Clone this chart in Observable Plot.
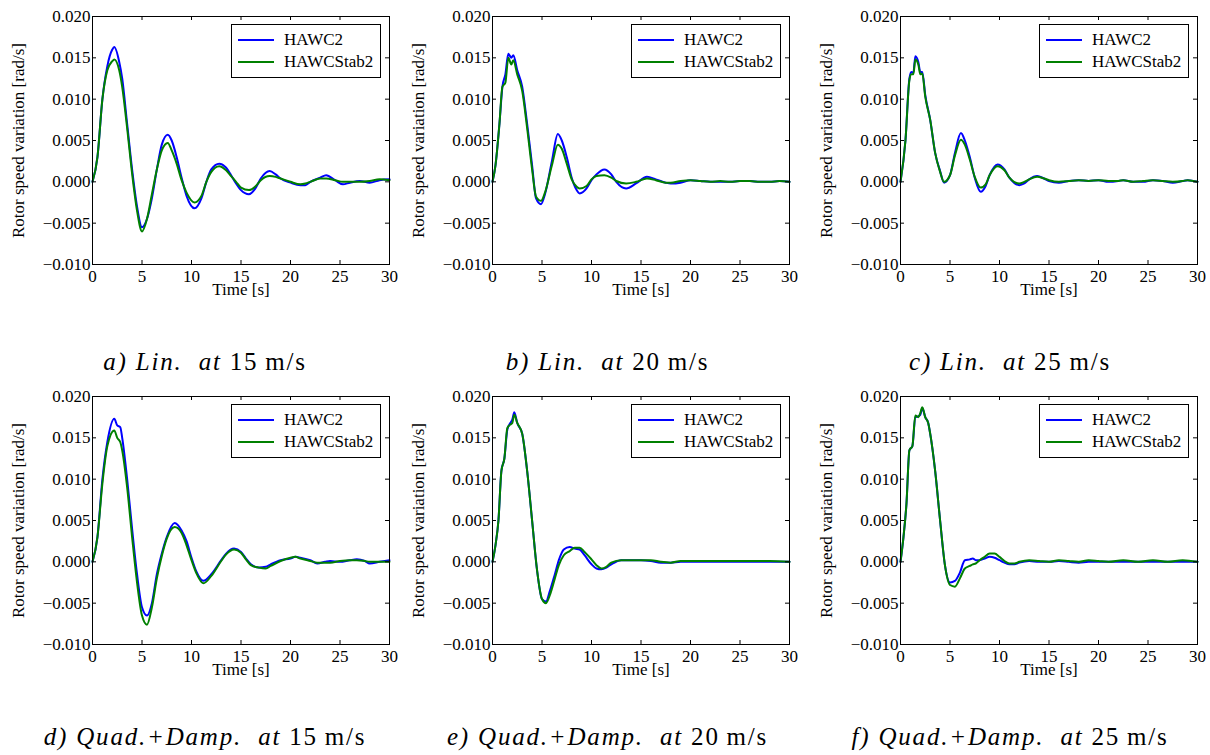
<!DOCTYPE html>
<html>
<head>
<meta charset="utf-8">
<script src="https://cdn.jsdelivr.net/npm/d3@7"></script>
<script src="https://cdn.jsdelivr.net/npm/@observablehq/plot@0.6"></script>
<style>
  body { margin: 0; background: #fff; }
  #fig { position: relative; width: 1210px; height: 755px; overflow: hidden; }
  .panel { position: absolute; }
  .legend {
    position: absolute; border: 1px solid #000; background: #fff;
    font-family: "Liberation Serif", serif; font-size: 17px; color: #000;
    box-sizing: border-box; width: 150px; height: 54px; padding: 4px 0 0 6px;
  }
  .legend .row { display: flex; align-items: center; height: 22px; }
  .legend .swatch { width: 36px; height: 2px; margin-right: 10px; }
  .caption {
    position: absolute; text-align: center; white-space: nowrap;
    font-family: "Liberation Serif", serif; font-size: 25px; line-height: 25px;
    letter-spacing: 1.8px; color: #000;
  }
</style>
</head>
<body>
<div id="fig"></div>
<script>
// Rotor speed response after a step, HAWC2 time simulation vs. HAWCStab2 model
const seriesNames = ["HAWC2", "HAWCStab2"];
const seriesColors = ["#0000ff", "#008000"];
const xTicks = [0, 5, 10, 15, 20, 25, 30];
const yTicks = [-0.010, -0.005, 0.000, 0.005, 0.010, 0.015, 0.020];
const xLabel = "Time [s]";
const yLabel = "Rotor speed variation [rad/s]";

// a) Lin. at 15 m/s
const tA = [0,0.5,1,1.5,2,2.2,2.7,3,3.5,4,4.5,5,5.5,6,6.5,7,7.6,8,8.5,9,9.5,10.3,11,11.5,12,12.8,13.5,14,14.5,15,15.8,16.5,17,17.9,18.5,19,20,21,21.5,22,23,23.6,24.5,25.3,26,27,28,29,30];
const hawc2A = [0,0.003,0.010,0.014,0.0160,0.0163,0.0145,0.0125,0.007,0.0015,-0.003,-0.0055,-0.0045,-0.002,0.0015,0.0045,0.0057,0.005,0.003,0.0005,-0.0017,-0.0032,-0.002,0,0.0015,0.0022,0.0017,0.0008,-0.0002,-0.001,-0.0015,-0.0007,0.0004,0.0013,0.0009,0.0004,-0.0001,-0.0004,-0.0004,0,0.0005,0.0008,0.0002,-0.0003,-0.0001,0.0001,-0.0001,0.0002,0.0003];
const stab2A = [0,0.003,0.010,0.0135,0.0146,0.0148,0.0135,0.0115,0.0065,0.001,-0.0035,-0.006,-0.0045,-0.0015,0.0015,0.0038,0.0047,0.0038,0.0022,0.0002,-0.0013,-0.0025,-0.0017,0,0.0012,0.0019,0.0014,0.0007,0,-0.0007,-0.001,-0.0005,0.0002,0.0007,0.0006,0.0004,0,-0.0003,-0.0002,0,0.0004,0.0004,0.0002,0,0,0,0.0001,0.0003,0.0002];

// b) Lin. at 20 m/s
const tB = [0,0.3,0.7,1,1.3,1.6,1.9,2.1,2.5,3,3.5,4,4.4,4.9,5.3,6,6.6,7,7.5,8,8.5,8.8,9.5,10,10.5,11.3,12,12.5,13.5,14.5,15.6,16.5,17.5,18,19,20,21,22,23,24,25,26,27,28,29,30];
const hawc2B = [0,0.002,0.007,0.0115,0.013,0.0155,0.015,0.0153,0.0135,0.0115,0.007,0.002,-0.002,-0.0027,-0.0015,0.0025,0.0058,0.005,0.003,0.0005,-0.001,-0.0014,-0.0008,0.0002,0.0009,0.0015,0.0009,0,-0.0008,-0.0002,0.0006,0.0003,-0.0001,-0.0002,-0.0001,0.0002,0.0001,0,0,0,0.0001,0.0001,0,0,0.0001,0];
const stab2B = [0,0.002,0.007,0.0115,0.012,0.015,0.0142,0.0147,0.013,0.011,0.0065,0.0015,-0.0018,-0.0023,-0.0013,0.002,0.0045,0.004,0.0022,0.0003,-0.0006,-0.0008,-0.0005,0.0003,0.0007,0.0008,0.0005,0.0001,-0.0002,0,0.0004,0.0002,-0.0001,-0.0001,0.0001,0.0002,0.0001,0,0.0001,0,0.0001,0.0001,0,0,0.0001,0];

// c) Lin. at 25 m/s
const tC = [0,0.5,0.9,1.1,1.3,1.5,1.8,2,2.2,2.5,3,3.5,4,4.4,5,5.5,6.1,6.5,7,7.5,8.1,8.6,9,9.8,10.5,11,12,12.5,13,13.8,14.5,15,16,17,18,19,20,21,22,22.5,23.5,24.5,25.5,26.5,27.5,28.5,29,30];
const hawc2C = [0,0.005,0.0125,0.0133,0.0132,0.0152,0.0145,0.0133,0.0133,0.0105,0.0075,0.0035,0.0013,-0.0001,0.0008,0.0035,0.0059,0.005,0.003,0.0005,-0.0012,-0.0005,0.0008,0.0021,0.0015,0.0005,-0.0004,-0.0002,0.0003,0.0007,0.0004,0.0001,-0.0001,0.0001,0.0002,0.0001,0.0002,0,0.0001,0.0002,0,0,0.0002,0.0001,-0.0001,0.0001,0.0002,0];
const stab2C = [0,0.005,0.0123,0.013,0.013,0.0148,0.0142,0.013,0.0131,0.0103,0.0075,0.0035,0.0012,0,0.0008,0.0032,0.0051,0.0045,0.0027,0.0006,-0.0007,-0.0003,0.0008,0.0019,0.0014,0.0005,-0.0002,0,0.0003,0.0006,0.0004,0.0002,0,0.0001,0.0002,0.0001,0.0002,0.0001,0.0001,0.0002,0,0.0001,0.0002,0.0001,0,0.0001,0.0002,0];

// d) Quad.+Damp. at 15 m/s
const tD = [0,0.5,1,1.5,2.2,2.5,2.8,3,3.5,4,4.5,5,5.5,6,6.5,7,7.5,8.3,9,9.5,10,10.5,11.2,12,13,13.5,14.3,15,15.5,16,16.8,17.5,18,19,20,20.5,21,22,22.7,23.5,24,25,26,26.7,27.5,28,29,30];
const hawc2D = [0,0.003,0.010,0.0145,0.0173,0.0165,0.0163,0.015,0.010,0.004,-0.0015,-0.0055,-0.0065,-0.005,-0.0015,0.001,0.003,0.0047,0.0038,0.0025,0.0005,-0.0012,-0.0023,-0.0015,0.0002,0.001,0.0016,0.0012,0.0004,-0.0003,-0.0007,-0.0006,-0.0003,0.0002,0.0004,0.0006,0.0005,0.0002,-0.0002,0,0.0001,0,0.0002,0.0003,0.0001,-0.0002,0,0.0002];
const stab2D = [0,0.003,0.0095,0.014,0.0159,0.015,0.0145,0.0135,0.009,0.003,-0.0025,-0.0065,-0.0076,-0.0055,-0.002,0.0007,0.0028,0.0042,0.0035,0.002,0.0002,-0.0014,-0.0026,-0.0017,0.0001,0.0009,0.0015,0.0011,0.0003,-0.0004,-0.0007,-0.0008,-0.0005,0.0001,0.0005,0.0006,0.0004,0.0001,-0.0001,-0.0001,-0.0001,0.0001,0.0002,0.0002,0.0001,0,0,0];

// e) Quad.+Damp. at 20 m/s
const tE = [0,0.3,0.6,0.9,1.2,1.5,1.8,2,2.2,2.5,3,3.5,4,4.5,5,5.4,5.8,6.3,6.7,7.2,7.8,8.3,8.8,9.3,10,10.5,11,11.5,12,13,14,15,16,17,18,19,20,22,24,26,28,30];
const hawc2E = [0,0.002,0.005,0.011,0.0125,0.016,0.0168,0.0172,0.0181,0.0168,0.0155,0.011,0.005,-0.001,-0.0045,-0.0048,-0.0035,-0.0015,0.0002,0.0015,0.0018,0.0016,0.0015,0.0008,-0.0003,-0.0008,-0.0009,-0.0007,-0.0003,0.0002,0.0002,0.0002,0.0001,-0.0001,-0.0001,0,0,0,0,0,0,0];
const stab2E = [0,0.002,0.005,0.011,0.0125,0.0162,0.0166,0.0168,0.0178,0.0168,0.0155,0.011,0.005,-0.001,-0.0045,-0.005,-0.004,-0.002,-0.0004,0.0008,0.0013,0.0017,0.0017,0.0012,0.0003,-0.0004,-0.0008,-0.0006,-0.0001,0.0002,0.0002,0.0002,0.0002,0,-0.0001,0.0001,0.0001,0.0001,0.0001,0.0001,0.0001,0];

// f) Quad.+Damp. at 25 m/s
const tF = [0,0.3,0.6,0.9,1.2,1.5,1.8,2,2.2,2.5,2.8,3,3.5,4,4.5,5,5.5,6,6.5,7,7.3,7.6,8,8.5,9,9.5,10,10.5,11,11.5,12,13,14,15,16,17,18,19,20,21,22.5,24,25.5,27,28.5,30];
const hawc2F = [0,0.003,0.007,0.0135,0.014,0.0175,0.0176,0.0178,0.0186,0.0175,0.0168,0.0155,0.011,0.005,-0.0005,-0.0025,-0.0023,-0.0013,0.0002,0.0003,0.0004,0.0002,0.0002,0.0004,0.0006,0.0005,0.0002,-0.0001,-0.0003,-0.0003,-0.0001,0.0001,0,0,0.0001,0,-0.0001,0,0,0,0,0,0,0,0,0];
const stab2F = [0,0.003,0.007,0.0135,0.014,0.0177,0.0175,0.018,0.0187,0.0175,0.0168,0.0155,0.011,0.005,-0.0005,-0.0028,-0.003,-0.002,-0.0008,-0.0005,-0.0003,-0.0002,0.0002,0.0006,0.001,0.001,0.0006,0.0001,-0.0002,-0.0002,0,0.0002,0.0001,0,0.0002,0.0001,0,0.0002,0.0001,0,0.0002,0,0.0002,0,0.0002,0];

const captions = [
  ["a) Lin.", "15"], ["b) Lin.", "20"], ["c) Lin.", "25"],
  ["d) Quad.+Damp.", "15"], ["e) Quad.+Damp.", "20"], ["f) Quad.+Damp.", "25"]
];

const panels = [
  [tA, hawc2A, stab2A], [tB, hawc2B, stab2B], [tC, hawc2C, stab2C],
  [tD, hawc2D, stab2D], [tE, hawc2E, stab2E], [tF, hawc2F, stab2F]
];

// layout of the 2 x 3 grid
const W = 400, H = 310;
const M = {top: 16, right: 11, bottom: 46, left: 92};
const plotW = W - M.left - M.right, plotH = H - M.top - M.bottom;
const colLeft = [0, 400, 808];
const rowTop = [0, 380];
const capCol = [[0, 410], [405, 810], [810, 1210]];
const capTop = [349, 724];
const tickLen = 4;
const fontFamily = "'Liberation Serif', serif";
const tickFont = 17, labelFont = 17;

const fig = document.getElementById("fig");

function drawPanel([t, a, b]) {
  const toRows = (v) => t.map((x, i) => ({t: x, v: v[i]}));
  return Plot.plot({
    width: W, height: H,
    marginTop: M.top, marginRight: M.right, marginBottom: M.bottom, marginLeft: M.left,
    style: {fontFamily, fontSize: labelFont + "px", background: "white", color: "black", overflow: "visible"},
    x: {domain: [0, 30]},
    y: {domain: [-0.010, 0.020]},
    marks: [
      Plot.line(toRows(a), {x: "t", y: "v", stroke: seriesColors[0], strokeWidth: 2, curve: "monotone-x"}),
      Plot.line(toRows(b), {x: "t", y: "v", stroke: seriesColors[1], strokeWidth: 2, curve: "monotone-x"}),
      Plot.frame({stroke: "black", strokeWidth: 1}),
      // inward ticks on all four sides
      Plot.tickX(xTicks, {x: d => d, stroke: "black", insetTop: plotH - tickLen}),
      Plot.tickX(xTicks, {x: d => d, stroke: "black", insetBottom: plotH - tickLen}),
      Plot.tickY(yTicks, {y: d => d, stroke: "black", insetRight: plotW - tickLen}),
      Plot.tickY(yTicks, {y: d => d, stroke: "black", insetLeft: plotW - tickLen}),
      Plot.axisX({ticks: xTicks, tickSize: 0, tickPadding: 5, label: null, fontFamily, fontSize: tickFont, tickFormat: d => String(d)}),
      Plot.axisY({ticks: yTicks, tickSize: 0, tickPadding: 2, label: null, fontFamily, fontSize: tickFont, tickFormat: d3.format(".3f")}),
      Plot.text([xLabel], {text: d => d, frameAnchor: "bottom", lineAnchor: "middle", textAnchor: "middle", dy: 25, fontFamily, fontSize: labelFont}),
      Plot.text([yLabel], {text: d => d, frameAnchor: "left", textAnchor: "middle", lineAnchor: "middle", dx: -74, rotate: -90, fontFamily, fontSize: labelFont})
    ]
  });
}

panels.forEach((p, i) => {
  const r = Math.floor(i / 3), c = i % 3;
  const wrap = document.createElement("div");
  wrap.className = "panel";
  wrap.style.left = colLeft[c] + "px";
  wrap.style.top = rowTop[r] + "px";
  wrap.style.width = W + "px";
  wrap.style.height = H + "px";
  wrap.appendChild(drawPanel(p));

  const leg = document.createElement("div");
  leg.className = "legend";
  leg.style.left = (W - M.right - 8 - 150) + "px";
  leg.style.top = (M.top + 8) + "px";
  seriesNames.forEach((name, k) => {
    const row = document.createElement("div");
    row.className = "row";
    const sw = document.createElement("span");
    sw.className = "swatch";
    sw.style.background = seriesColors[k];
    const lab = document.createElement("span");
    lab.textContent = name;
    row.appendChild(sw);
    row.appendChild(lab);
    leg.appendChild(row);
  });
  wrap.appendChild(leg);
  fig.appendChild(wrap);

  const cap = document.createElement("div");
  cap.className = "caption";
  cap.style.left = capCol[c][0] + "px";
  cap.style.width = (capCol[c][1] - capCol[c][0]) + "px";
  cap.style.top = capTop[r] + "px";
  const [label, speed] = captions[i];
  cap.innerHTML = `<i>${label}&nbsp;&nbsp;at</i> ${speed}&#8201;m/s`;
  fig.appendChild(cap);
});
</script>
</body>
</html>
